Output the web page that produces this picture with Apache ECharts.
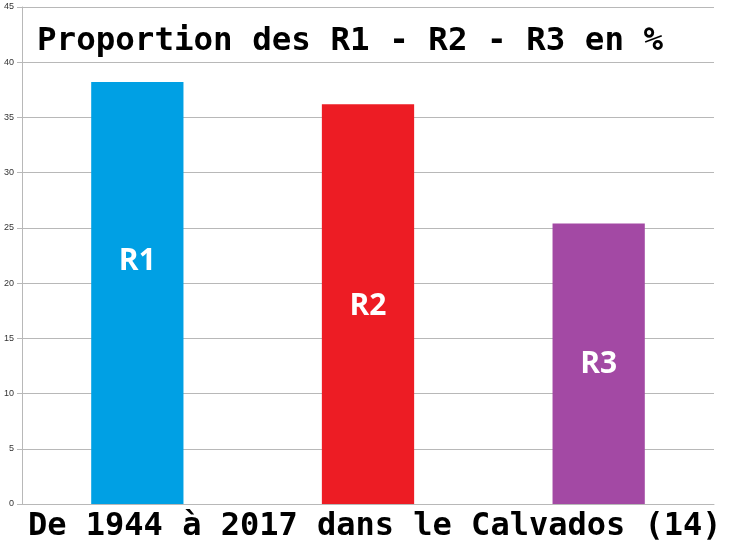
<!DOCTYPE html>
<html>
<head>
<meta charset="utf-8">
<script src="https://cdn.jsdelivr.net/npm/echarts@6/dist/echarts.min.js"></script>
<style>html,body{margin:0;padding:0;background:#fff}#c{width:750px;height:551px}</style>
</head>
<body>
<div id="c"></div>
<script>
var categories = ['R1', 'R2', 'R3'];
var values = [38.2, 36.2, 25.4];
var colors = ['#00A0E4', '#ED1C24', '#A349A4'];
var labelOffsets = [-32, 2, 1];
var yTicks = [0, 5, 10, 15, 20, 25, 30, 35, 40, 45];
var titleText = 'Proportion des R1 - R2 - R3 en %';
var subText = 'De 1944 à 2017 dans le Calvados (14)';

var chart = echarts.init(document.getElementById('c'));
chart.setOption({
  animation: false,
  backgroundColor: '#fff',
  title: [
    { text: titleText, left: 37, top: 25, padding: 0,
      textStyle: { fontFamily: 'DejaVu Sans Mono', fontWeight: 'bold', fontSize: 32.5, color: '#000' } },
    { text: subText, left: 28, top: 511, padding: 0,
      textStyle: { fontFamily: 'DejaVu Sans Mono', fontWeight: 'bold', fontSize: 32, color: '#000' } }
  ],
  grid: { left: 22, right: 36, top: 7, bottom: 47, containLabel: false },
  xAxis: {
    type: 'category', data: categories,
    axisLine: { show: true, lineStyle: { color: '#B8B8B8', width: 1 } },
    axisTick: { show: false },
    axisLabel: { show: false }
  },
  yAxis: {
    type: 'value', min: yTicks[0], max: yTicks[yTicks.length - 1], interval: 5,
    axisLine: { show: true, lineStyle: { color: '#B8B8B8', width: 1 } },
    axisTick: { show: true, length: 5, lineStyle: { color: '#B8B8B8' } },
    axisLabel: { fontSize: 9, color: '#333', fontFamily: 'Liberation Sans', margin: 8 },
    splitLine: { show: true, lineStyle: { color: '#B8B8B8', width: 1 } }
  },
  series: [{
    type: 'bar',
    barWidth: '40%',
    data: values.map(function (v, i) {
      return {
        value: v,
        itemStyle: { color: colors[i] },
        label: { offset: [0, labelOffsets[i]] }
      };
    }),
    label: {
      show: true, position: 'inside',
      formatter: function (p) { return categories[p.dataIndex]; },
      fontFamily: 'Open Sans', fontWeight: 'bold', fontSize: 30, color: '#fff'
    }
  }]
});
</script>
</body>
</html>
